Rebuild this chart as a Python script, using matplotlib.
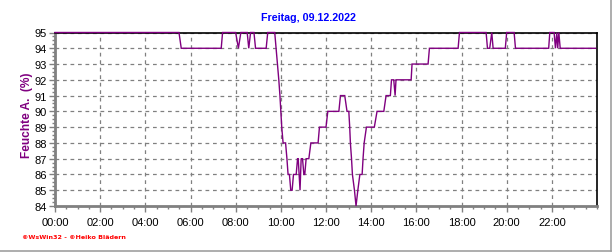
import matplotlib
matplotlib.use("Agg")
import matplotlib.pyplot as plt
from matplotlib.ticker import MultipleLocator, FixedLocator
from matplotlib.lines import Line2D

# ---- data (time in decimal hours, relative humidity %) ----
hours = [0.00, 5.49, 5.59, 7.36, 7.42, 8.00, 8.12, 8.23, 8.51, 8.58, 8.66, 8.81, 8.88, 9.35, 9.42, 9.73,
         9.79, 9.85, 9.91, 9.96, 10.00, 10.04, 10.10, 10.21, 10.27, 10.32, 10.38, 10.44, 10.50, 10.56,
         10.68, 10.74, 10.77, 10.81, 10.85, 10.90, 10.96, 11.02, 11.06, 11.12, 11.24, 11.33, 11.65, 11.71,
         12.00, 12.08, 12.57, 12.64, 12.83, 12.93, 13.01,
         13.05, 13.08, 13.13, 13.17, 13.26, 13.33, 13.41, 13.50, 13.60, 13.64, 13.69, 13.79, 14.14, 14.26,
         14.56, 14.66, 14.85, 14.90, 15.00, 15.06, 15.10, 15.77, 15.81, 16.52, 16.58, 17.85, 17.91,
         19.09, 19.15, 19.25, 19.34, 19.40, 19.94, 20.00, 20.33, 20.39, 21.86, 21.91, 22.10, 22.16,
         22.22, 22.26, 22.31, 22.37, 23.94]
humidity = [95, 95, 94, 94, 95, 95, 94, 95, 95, 94, 95, 95, 94, 94, 95, 95,
            94, 93, 92, 91, 90, 89, 88, 88, 87, 86, 86, 85, 85, 86,
            86, 87, 87, 86, 85, 87, 87, 86, 86, 87, 87, 88, 88, 89,
            89, 90, 90, 91, 91, 90, 90,
            89, 88, 87, 86, 85, 84, 85, 86, 86, 87, 88, 89, 89, 90,
            90, 91, 91, 92, 92, 91, 92, 92, 93, 93, 94, 94, 95,
            95, 94, 94, 95, 94, 94, 95, 95, 94, 94, 95, 95, 94,
            95, 94, 95, 94, 94]

y_ticks = list(range(84, 96))
x_ticks = list(range(0, 24, 2))
x_labels = [f"{h:02d}:00" for h in x_ticks]

title = "Freitag, 09.12.2022"
ylabel = "Feuchte A.  (%)"
footer = "\u00a9WsWin32 - \u00a9Heiko Bl\u00e4dern"

purple = "#800080"
grey = "#808080"

W, H = 616, 253
fig = plt.figure(figsize=(W / 100, H / 100), dpi=100)
fig.patch.set_facecolor("white")
ax = fig.add_axes([55 / W, (H - 207) / H, (597 - 55) / W, (207 - 33.5) / H])

ax.plot(hours, humidity, color=purple, lw=1.0, zorder=4, clip_on=False,
        solid_joinstyle="miter")

ax.set_xlim(0, 24)
ax.set_ylim(84, 95)
ax.xaxis.set_major_locator(FixedLocator(x_ticks))
ax.set_xticklabels(x_labels)
ax.xaxis.set_minor_locator(MultipleLocator(0.5))
ax.yaxis.set_major_locator(FixedLocator(y_ticks))
ax.yaxis.set_minor_locator(MultipleLocator(0.25))

ax.grid(True, which="major", color=grey, linestyle=(0, (3, 3)), linewidth=0.9)
ax.set_axisbelow(True)

for side in ("top", "right"):
    ax.spines[side].set_color("black")
    ax.spines[side].set_linewidth(1.2)
for side in ("left", "bottom"):
    ax.spines[side].set_color(grey)
    ax.spines[side].set_linewidth(2.0)

ax.tick_params(axis="both", which="major", direction="out", length=4, width=1,
               color=grey, labelsize=8, labelcolor="black", pad=2)
ax.tick_params(axis="both", which="minor", direction="out", length=2, width=1, color=grey)
ax.tick_params(axis="x", which="major", pad=4)
for lab in ax.get_xticklabels() + ax.get_yticklabels():
    lab.set_fontfamily("Liberation Sans")

fig.text(308 / W, 1 - 18 / H, title, ha="center", va="center", color="#0000ff",
         fontsize=7.7, fontweight="bold", family="Liberation Sans")
fig.text(27 / W, 1 - 115 / H, ylabel, ha="center", va="center", rotation=90,
         color=purple, fontsize=8.6, fontweight="bold", family="Liberation Sans")
fig.text(22 / W, 1 - 238 / H, footer, ha="left", va="center", color="#ff0000",
         fontsize=4.6, fontweight="bold", family="DejaVu Sans")

# image frame shadow lines (right and bottom)
fig.add_artist(Line2D([0, 611 / W], [1 - 251.5 / H, 1 - 251.5 / H], transform=fig.transFigure,
                      color="#a0a0a0", lw=1.2))
fig.add_artist(Line2D([611 / W, 611 / W], [1 - 251.5 / H, 1], transform=fig.transFigure,
                      color="#a0a0a0", lw=1.2))

fig.savefig("out.png", dpi=100, facecolor="white")
